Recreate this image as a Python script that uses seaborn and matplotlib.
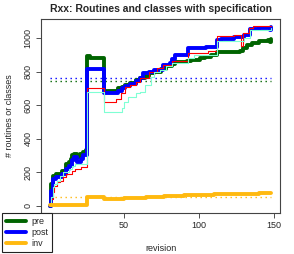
import matplotlib
matplotlib.use("Agg")
import matplotlib.pyplot as plt
from matplotlib.lines import Line2D
import seaborn as sns
import numpy as np

# ---- data (step change points: revision, value) ----
pre_rev = [1, 2, 3, 5, 9, 12, 14, 15, 16, 17, 19, 21, 23, 25, 26, 28, 37, 46, 49, 51,
           54, 58, 61, 64, 67, 70, 75, 78, 82, 84, 92, 95, 101, 104, 108, 112, 127, 129, 132, 135,
           140, 146, 147, 148]
pre_val = [0, 130, 180, 190, 210, 250, 260, 280, 300, 310, 290, 310, 320, 335, 890, 880, 686, 700, 710, 720,
           734, 750, 760, 775, 790, 800, 815, 830, 845, 855, 860, 870, 880, 885, 896, 916, 920, 940, 960, 970,
           984, 990, 976, 996]

post_rev = [1, 2, 3, 5, 9, 12, 14, 16, 17, 19, 22, 23, 26, 37, 46, 49, 51, 54, 58, 61,
            63, 67, 70, 76, 81, 82, 84, 93, 105, 112, 115, 123, 130, 134, 140, 147, 148]
post_val = [0, 90, 160, 170, 190, 220, 240, 270, 290, 260, 280, 300, 816, 670, 684, 700, 714, 726, 746, 760,
            790, 800, 810, 840, 850, 874, 900, 940, 945, 990, 996, 1004, 1020, 1056, 1060, 1050, 1068]

red_rev = [1, 2, 3, 4, 6, 8, 10, 12, 16, 18, 22, 26, 37, 45, 48, 51, 54, 58, 61, 67,
           72, 76, 82, 93, 106, 112, 123, 128, 129, 133, 136, 148]
red_val = [0, 40, 80, 120, 140, 150, 170, 190, 210, 220, 230, 700, 620, 636, 672, 705, 720, 740, 760, 800,
           820, 840, 862, 910, 925, 1010, 1016, 950, 1030, 1060, 1070, 1070]

aqua_rev = [1, 2, 3, 4, 6, 8, 10, 14, 16, 18, 26, 37, 49, 50, 53, 58, 61, 64, 68, 70,
            74, 78, 82, 93, 97, 112, 130, 134, 148]
aqua_val = [0, 50, 110, 130, 150, 180, 200, 220, 240, 250, 680, 560, 580, 620, 650, 670, 680, 720, 770, 800,
            810, 830, 850, 880, 900, 984, 1000, 1050, 1058]

inv_rev = [1, 26, 37, 50, 65, 77, 90, 110, 125, 140, 148]
inv_val = [2, 52, 42, 47, 53, 60, 64, 68, 72, 75, 78]

# average reference levels (dotted)
avg_names = ["post", "pre", "inv"]
avg_vals = [764, 744, 50]

legend_labels = ["pre", "post", "inv"]
title = "Rxx: Routines and classes with specification"
xlabel = "revision"
ylabel = "# routines or classes"
xticks = [50, 100, 150]
yticks = [0, 200, 400, 600, 800, 1000]

# ---- style ----
sns.set_style("ticks")
plt.rcParams["font.family"] = ["Liberation Sans", "DejaVu Sans"]

col = {"pre": "#006400", "post": "#0000FF", "inv": "#FFB90F", "red": "#FF0000", "aqua": "#7FFFD4"}

fig = plt.figure(figsize=(2.94, 2.54), dpi=100)
ax = fig.add_axes([41 / 294, 1 - 213 / 254, (280 - 41) / 294, (213 - 19) / 254])

all_rev = pre_rev + post_rev + red_rev + aqua_rev + inv_rev
all_val = pre_val + post_val + red_val + aqua_val + inv_val

# dotted average lines
xmin, xmax = min(all_rev), max(all_rev)
for name, v in zip(avg_names, avg_vals):
    ax.hlines(v, xmin, xmax, colors=col[name], linestyles=(0, (1, 2.6)), lw=1.0, zorder=1)

sns.lineplot(x=pre_rev, y=pre_val, ax=ax, color=col["pre"], lw=2.8, drawstyle="steps-post", zorder=2)
sns.lineplot(x=post_rev, y=post_val, ax=ax, color=col["post"], lw=2.8, drawstyle="steps-post", zorder=3)
sns.lineplot(x=red_rev, y=red_val, ax=ax, color=col["red"], lw=0.8, drawstyle="steps-post", zorder=4)
sns.lineplot(x=aqua_rev, y=aqua_val, ax=ax, color=col["aqua"], lw=0.8, drawstyle="steps-post", zorder=5)
sns.lineplot(x=inv_rev, y=inv_val, ax=ax, color=col["inv"], lw=2.8, drawstyle="steps-post", zorder=6)

# R-like 4% expansion
xr = xmax - xmin
ax.set_xlim(xmin - 0.04 * xr, xmax + 0.04 * xr)
ymin_, ymax_ = min(all_val), max(all_val)
yr = ymax_ - ymin_
ax.set_ylim(ymin_ - 0.04 * yr, ymax_ + 0.04 * yr)

ax.set_xticks(xticks)
ax.set_yticks(yticks)
ax.set_yticklabels([str(t) for t in yticks], rotation=90, va="center")
ax.tick_params(axis="both", labelsize=6.5, length=3.5, width=0.6, color="#333333", pad=2.5)
for s in ax.spines.values():
    s.set_visible(True)
    s.set_color("#444444")
    s.set_linewidth(0.8)

ax.set_title(title, fontsize=7.5, fontweight="bold", pad=5)
ax.set_xlabel(xlabel, fontsize=6.5, labelpad=10)
ax.set_ylabel(ylabel, fontsize=6.5, labelpad=7)

handles = [Line2D([0], [0], color=col[n], lw=2.8) for n in legend_labels]
leg = fig.legend(handles, legend_labels, loc="lower left",
                 bbox_to_anchor=(2 / 294, 2 / 254, 50 / 294, 41 / 254),
                 bbox_transform=fig.transFigure, mode="expand",
                 fontsize=6.5, frameon=True, fancybox=False, handlelength=2.2,
                 handletextpad=0.6, borderpad=0.45, labelspacing=0.2, borderaxespad=0)
leg.get_frame().set_edgecolor("#222222")
leg.get_frame().set_linewidth(0.8)
leg.get_frame().set_facecolor("white")
leg.get_frame().set_alpha(1)
leg.set_zorder(10)

fig.savefig("out.png", dpi=100)
